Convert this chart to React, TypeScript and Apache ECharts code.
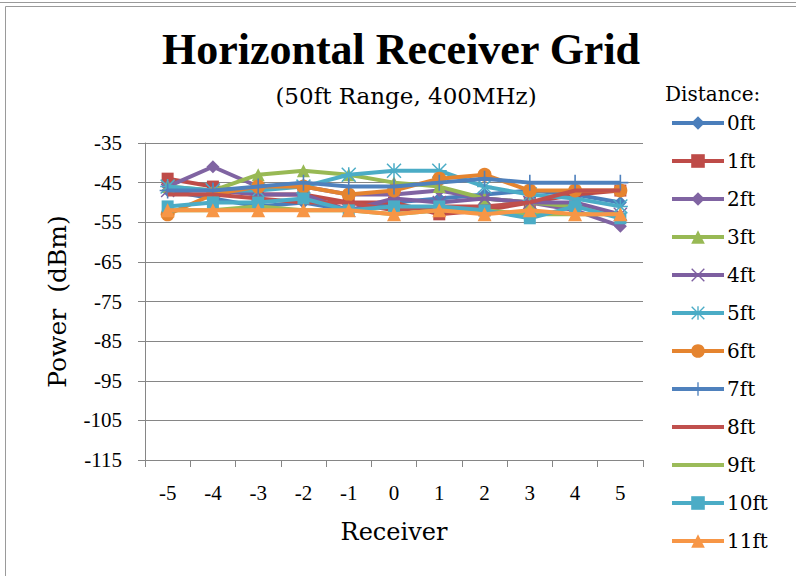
import React, { useEffect, useRef } from "react";
import * as echarts from "echarts";

const receivers = ["-5", "-4", "-3", "-2", "-1", "0", "1", "2", "3", "4", "5"];
const yTicks = [-35, -45, -55, -65, -75, -85, -95, -105, -115];

const d0ft = [-47, -49, -51, -50, -52, -50, -49, -48, -47, -48, -50];
const d1ft = [-44, -46, -48, -48, -50, -50, -53, -52, -50, -48, -47];
const d2ft = [-46, -41, -46, -46, -48, -48, -47, -49, -50, -52, -56];
const d3ft = [-46, -47, -43, -42, -43, -45, -46, -49, -50, -51, -53];
const d4ft = [-47, -47, -48, -48, -52, -49, -50, -49, -50, -50, -53];
const d5ft = [-46, -47, -47, -46, -43, -42, -42, -46, -48, -49, -51];
const d6ft = [-53, -48, -46, -46, -48, -47, -44, -43, -47, -47, -47];
const d7ft = [-47, -47, -46, -45, -46, -46, -45, -44, -45, -45, -45];
const d8ft = [-48, -48, -49, -50, -50, -52, -51, -51, -50, -47, -47];
const d9ft = [-52, -52, -51, -52, -52, -53, -52, -52, -53, -53, -53];
const d10ft = [-51, -50, -50, -49, -52, -51, -51, -52, -54, -51, -54];
const d11ft = [-52, -52, -52, -52, -52, -53, -52, -53, -52, -53, -53];

const seriesNames = ["0ft", "1ft", "2ft", "3ft", "4ft", "5ft", "6ft", "7ft", "8ft", "9ft", "10ft", "11ft"];
const seriesData = [d0ft, d1ft, d2ft, d3ft, d4ft, d5ft, d6ft, d7ft, d8ft, d9ft, d10ft, d11ft];

const PLUS = "path://M9,0h2v9h9v2h-9v9h-2v-9h-9v-2h9z";
const XMARK = "path://M0,1.4L1.4,0L20,18.6L18.6,20Z M18.6,0L20,1.4L1.4,20L0,18.6Z";
const STAR = "path://M9,0h2v9h9v2h-9v9h-2v-9h-9v-2h9z M0,1.4L1.4,0L20,18.6L18.6,20Z M18.6,0L20,1.4L1.4,20L0,18.6Z";
const LINE_ICON = "path://M0,0h0.01v0.01h-0.01z M0,6.5h52v4h-52z M0,16.99h0.01v0.01h-0.01z";

const colors = ["#4A7EBB", "#BE4B48", "#8064A2", "#98B954", "#7D5FA0", "#4BACC6", "#E5842F", "#4F81BD", "#C0504D", "#9BBB59", "#4BACC6", "#F79646"];
const symbols = ["diamond", "rect", "diamond", "triangle", XMARK, STAR, "circle", PLUS, "none", "none", "rect", "triangle"];
const symbolSizes = [13, 12, 13, 13, 14, 15, 14, 16, 0, 0, 12, 14];

export default function App() {
  const ref = useRef<HTMLDivElement>(null);
  useEffect(() => {
    if (!ref.current) return;
    const chart = echarts.init(ref.current, null, { renderer: "svg" });
    const font = "Liberation Serif";
    const wide = "DejaVu Serif";
    chart.setOption({
      animation: false,
      backgroundColor: "#ffffff",
      textStyle: { fontFamily: font },
      graphic: [
        { type: "line", shape: { x1: 0, y1: 2.5, x2: 796, y2: 2.5 }, style: { stroke: "#9a9a9a", lineWidth: 1 } },
        { type: "rect", shape: { x: 5.5, y: 6.5, width: 800, height: 600 }, style: { stroke: "#9a9a9a", fill: "none", lineWidth: 1 } },
        {
          type: "text", x: 401, y: 49,
          style: { text: "Horizontal Receiver Grid", fontFamily: font, fontSize: 44, fontWeight: "bold", fill: "#000", align: "center", verticalAlign: "middle" },
        },
        {
          type: "text", x: 406, y: 96,
          style: { text: "(50ft Range, 400MHz)", fontFamily: wide, fontSize: 23, fill: "#000", align: "center", verticalAlign: "middle" },
        },
        {
          type: "text", x: 665, y: 94,
          style: { text: "Distance:", fontFamily: wide, fontSize: 20, fill: "#000", align: "left", verticalAlign: "middle" },
        },
      ],
      legend: {
        orient: "vertical",
        left: 670,
        top: 113,
        padding: 0,
        itemWidth: 52,
        itemHeight: 17,
        itemGap: 18,
        lineStyle: { width: 4 },
        data: seriesNames.map((n, i) => (symbols[i] === "none" ? { name: n, icon: LINE_ICON } : { name: n })),
        textStyle: { fontFamily: wide, fontSize: 20, color: "#000", padding: [0, 0, 0, -2] },
      },
      grid: { left: 145, top: 143, right: 153, bottom: 116 },
      xAxis: {
        type: "category",
        data: receivers,
        boundaryGap: true,
        name: "Receiver",
        nameLocation: "middle",
        nameGap: 60,
        nameTextStyle: { fontFamily: wide, fontSize: 24, color: "#000" },
        axisLine: { lineStyle: { color: "#868686" } },
        axisTick: { show: true, length: 7, lineStyle: { color: "#868686" } },
        axisLabel: { fontFamily: font, fontSize: 21, color: "#000", margin: 22 },
      },
      yAxis: {
        type: "value",
        min: yTicks[yTicks.length - 1],
        max: yTicks[0],
        interval: 10,
        name: "Power  (dBm)",
        nameLocation: "middle",
        nameGap: 75,
        nameTextStyle: { fontFamily: wide, fontSize: 25, color: "#000" },
        axisLine: { show: true, lineStyle: { color: "#868686" } },
        axisTick: { show: true, length: 7, lineStyle: { color: "#868686" } },
        axisLabel: { fontFamily: font, fontSize: 21, color: "#000", margin: 23 },
        splitLine: { show: true, lineStyle: { color: "#868686", width: 1 } },
      },
      series: seriesNames.map((name, i) => ({
        name,
        type: "line",
        data: seriesData[i],
        symbol: symbols[i],
        symbolSize: symbolSizes[i],
        showSymbol: symbols[i] !== "none",
        lineStyle: { color: colors[i], width: 4 },
        itemStyle: { color: colors[i] },
        z: 2 + i,
      })),
    });
    return () => chart.dispose();
  }, []);
  return <div ref={ref} style={{ width: 796, height: 576, position: "absolute", left: 0, top: 0 }} />;
}
